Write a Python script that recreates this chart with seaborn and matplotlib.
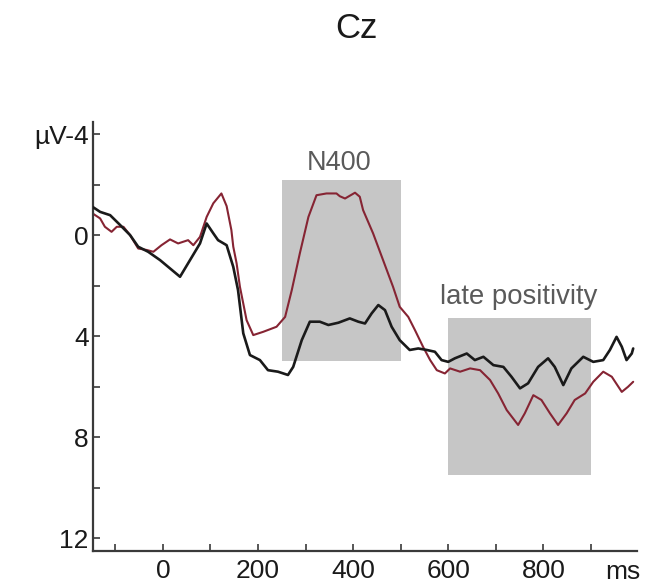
import matplotlib
matplotlib.use("Agg")
import matplotlib.pyplot as plt
import matplotlib.patches as mpatches
import seaborn as sns
import pandas as pd

# ---- data ----
black_ms = [-148, -132, -111, -90, -69, -52, -31, -6, 15, 36, 57, 78, 92, 106, 116, 134, 148, 158,
            169, 183, 204, 221, 242, 263, 274, 292, 309, 330, 348, 369, 393, 411, 425, 439, 453, 467,
            481, 498, 519, 537, 555, 572, 586, 600, 614, 639, 656, 674, 695, 716, 733, 751, 768, 789,
            810, 824, 842, 859, 884, 905, 926, 940, 954, 965, 975, 986, 989]
black_uv = [-1.12, -0.92, -0.79, -0.40, 0.00, 0.46, 0.66, 0.99, 1.32, 1.65, 0.99, 0.33, -0.46, -0.07,
            0.20, 0.40, 1.26, 2.18, 3.89, 4.75, 4.95, 5.35, 5.41, 5.54, 5.22, 4.16, 3.43, 3.43, 3.56,
            3.47, 3.30, 3.43, 3.50, 3.10, 2.77, 2.97, 3.63, 4.16, 4.55, 4.49, 4.55, 4.62, 4.95, 5.02,
            4.88, 4.69, 4.95, 4.82, 5.15, 5.22, 5.61, 6.07, 5.87, 5.22, 4.88, 5.22, 5.94, 5.28, 4.82,
            5.02, 4.95, 4.55, 4.03, 4.42, 4.95, 4.69, 4.49]

red_ms = [-148, -132, -122, -108, -97, -83, -69, -52, -34, -20, -3, 15, 32, 53, 64, 78, 92, 106, 123,
          134, 144, 148, 155, 162, 176, 190, 211, 239, 257, 271, 288, 306, 323, 344, 365, 372, 383,
          404, 414, 421, 442, 463, 484, 498, 516, 530, 547, 562, 576, 593, 604, 625, 646, 667, 688,
          705, 723, 747, 761, 779, 796, 814, 831, 849, 866, 888, 905, 926, 944, 965, 978, 989]
red_uv = [-0.86, -0.66, -0.33, -0.13, -0.33, -0.33, 0.00, 0.53, 0.59, 0.66, 0.40, 0.17, 0.33, 0.20,
          0.40, 0.07, -0.72, -1.26, -1.65, -1.15, -0.20, 0.46, 1.12, 2.05, 3.37, 3.96, 3.83, 3.63,
          3.24, 2.18, 0.72, -0.72, -1.58, -1.65, -1.65, -1.54, -1.45, -1.68, -1.52, -0.99, -0.07,
          0.99, 2.05, 2.84, 3.24, 3.76, 4.42, 4.95, 5.35, 5.48, 5.28, 5.41, 5.28, 5.35, 5.74, 6.27,
          6.93, 7.52, 7.06, 6.34, 6.53, 7.06, 7.52, 7.06, 6.53, 6.27, 5.81, 5.41, 5.61, 6.21, 6.01,
          5.81]

windows = ["N400", "late positivity"]
win_start = [250, 600]
win_end = [500, 900]
win_top = [-2.2, 3.3]
win_bottom = [5.0, 9.5]

x_major = [0, 200, 400, 600, 800]
x_minor = [-100, 100, 300, 500, 700, 900]
y_major = [-4, 0, 4, 8, 12]
y_major_labels = ["µV-4", "0", "4", "8", "12"]
y_minor = [-2, 2, 6, 10]

sns.set_theme(style="white")
plt.rcParams["font.family"] = ["Liberation Sans", "DejaVu Sans"]

fig = plt.figure(figsize=(6.46, 5.86), dpi=100)
ax = fig.add_axes([93 / 646, 35.3 / 586, 544 / 646, 428.7 / 586])

# analysis windows
for name, s, e, t, b, in zip(windows, win_start, win_end, win_top, win_bottom):
    ax.add_patch(mpatches.Rectangle((s, t), e - s, b - t, facecolor="#c6c6c6",
                                    edgecolor="none", zorder=0))

ax.text((win_start[0] + win_end[0]) / 2 - 5, -2.85, windows[0], ha="center", va="center",
        fontsize=19.5, color="#5a5a5a")
ax.text(749, 2.46, windows[1], ha="center", va="center", fontsize=19.8, color="#5a5a5a")

df_b = pd.DataFrame({"ms": black_ms, "uv": black_uv})
df_r = pd.DataFrame({"ms": red_ms, "uv": red_uv})
sns.lineplot(data=df_b, x="ms", y="uv", ax=ax, color="#1a1a1a", lw=1.9,
             estimator=None, sort=False, zorder=3)
sns.lineplot(data=df_r, x="ms", y="uv", ax=ax, color="#862433", lw=1.5,
             estimator=None, sort=False, zorder=2)

ax.set_xlim(-147, 997)
ax.set_ylim(12.5, -4.48)
ax.set_xlabel("")
ax.set_ylabel("")

for side in ["top", "right"]:
    ax.spines[side].set_visible(False)
for side in ["left", "bottom"]:
    ax.spines[side].set_color("#3a3a3a")
    ax.spines[side].set_linewidth(1.6)

ax.set_xticks(x_major)
ax.set_xticks(x_minor, minor=True)
ax.set_xticklabels([str(v) for v in x_major])
ax.set_yticks(y_major)
ax.set_yticks(y_minor, minor=True)
ax.set_yticklabels(y_major_labels)
ax.tick_params(axis="both", which="both", direction="in", length=5, width=1.2,
               color="#3a3a3a", labelsize=19, labelcolor="#1a1a1a")
ax.tick_params(axis="x", which="both", pad=6, bottom=True)
ax.tick_params(axis="y", which="both", pad=3, left=True)

ax.annotate("ms", xy=(968, 0), xycoords=("data", "axes fraction"), xytext=(0, -20.5),
            textcoords="offset points", ha="center", va="baseline", fontsize=19,
            color="#1a1a1a")

fig.text(356 / 646, 1 - 38 / 586, "Cz", ha="center", va="baseline", fontsize=25, color="#1a1a1a")

fig.savefig("out.png", dpi=100)
